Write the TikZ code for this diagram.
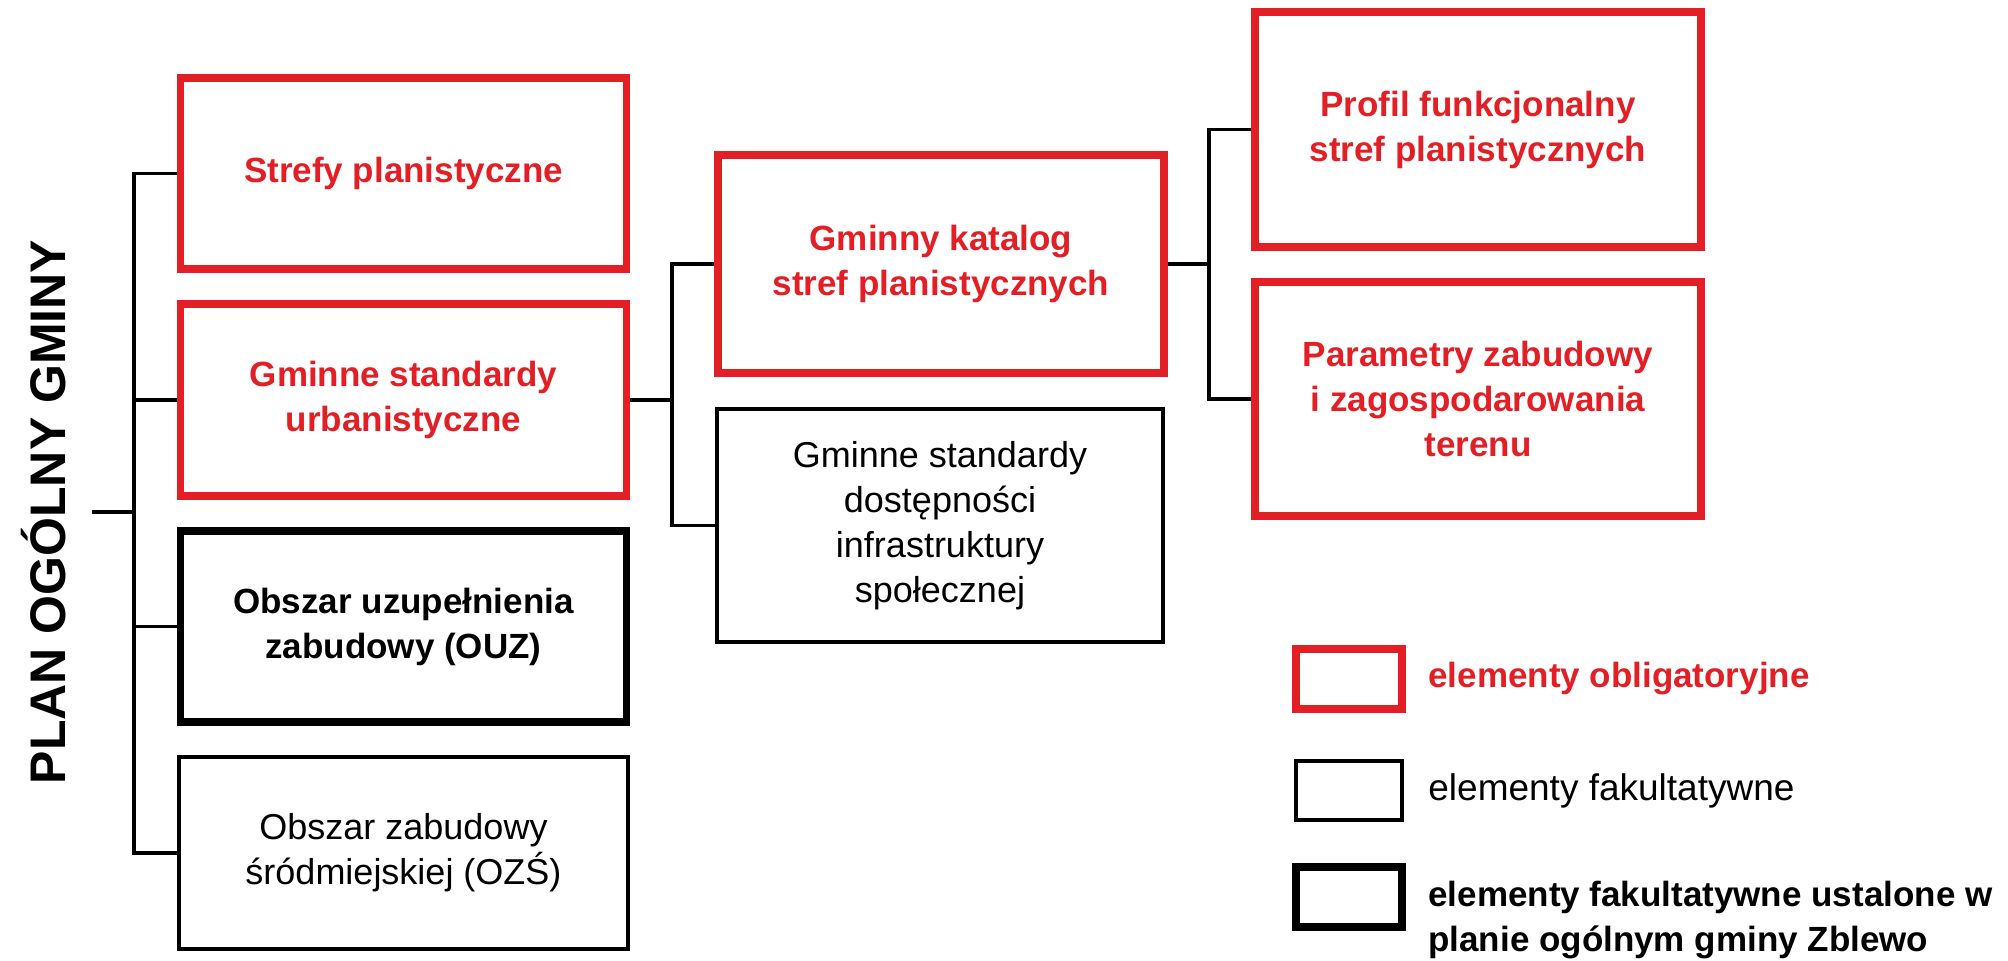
\documentclass[tikz,border=0pt]{standalone}
\usepackage{fontspec}
\setmainfont{Liberation Sans}
\definecolor{rd}{RGB}{227,30,36}
\begin{document}
\begin{tikzpicture}[x=0.5pt,y=-0.5pt,
  box/.style={draw, rectangle, inner sep=0pt, align=center, font=\fontsize{18}{22.5}\selectfont, minimum width=223pt},
  redbox/.style={box, draw=rd, line width=3.75pt, text=rd, font=\bfseries\fontsize{17.5}{22.5}\selectfont},
  thinbox/.style={box, draw=black, line width=2pt},
  thickbox/.style={box, draw=black, line width=3.75pt, font=\bfseries\fontsize{17.5}{22.5}\selectfont},
  conn/.style={draw=black, line width=1.8pt},
  legtext/.style={anchor=west, inner sep=0pt, align=left, font=\fontsize{18.5}{22.5}\selectfont},
]
\useasboundingbox (0,0) rectangle (2008,960);

% title
\node[rotate=90, font=\bfseries\fontsize{25}{30}\selectfont, inner sep=0pt] (title) at (43.5,512) {PLAN OGÓLNY GMINY};

% column 1
\node[redbox, minimum height=95.5pt] (strefy) at (403.5,173.5) {Strefy planistyczne};
\node[redbox, minimum height=96pt] (gminne) at (403.5,400) {Gminne standardy\\urbanistyczne};
\node[thickbox, minimum height=95.5pt] (ouz) at (403.5,626.5) {Obszar uzupełnienia\\zabudowy (OUZ)};
\node[thinbox, minimum height=96pt, minimum width=224.5pt] (ozs) at (403.5,853) {Obszar zabudowy\\śródmiejskiej (OZŚ)};

% column 2
\node[redbox, minimum height=109pt] (katalog) at (941,264) {Gminny katalog\\stref planistycznych};
\node[thinbox, minimum height=116.5pt] (dost) at (940,525.5) {Gminne standardy\\dostępności\\infrastruktury\\społecznej};

% column 3
\node[redbox, minimum height=117.5pt] (profil) at (1478,129.5) {Profil funkcjonalny\\stref planistycznych};
\node[redbox, minimum height=117pt] (param) at (1478,399) {Parametry zabudowy\\i zagospodarowania\\terenu};

% connectors
\coordinate (rootL) at (92,512);
\coordinate (b1) at (134,0);
\coordinate (b2) at (672,0);
\coordinate (b3) at (1209,0);
\draw[conn] (rootL) -- (rootL -| b1);
\draw[conn] (strefy.west) -- (strefy.west -| b1) -- (ozs.west -| b1) -- (ozs.west);
\draw[conn] (gminne.west) -- (gminne.west -| b1);
\draw[conn] (ouz.west) -- (ouz.west -| b1);

\draw[conn] (gminne.east) -- (gminne.east -| b2);
\draw[conn] (katalog.west) -- (katalog.west -| b2) -- (dost.west -| b2) -- (dost.west);

\draw[conn] (katalog.east) -- (katalog.east -| b3);
\draw[conn] (profil.west) -- (profil.west -| b3) -- (param.west -| b3) -- (param.west);

% legend
\node[redbox, minimum width=53pt, minimum height=30pt] (lred) at (1349,679) {};
\node[thinbox, minimum width=53pt, minimum height=29.5pt] (lthin) at (1349,790.5) {};
\node[thickbox, minimum width=53pt, minimum height=30pt] (lthick) at (1349,897) {};
\node[legtext, text=rd, font=\bfseries\fontsize{17.5}{22.5}\selectfont] (tred) at (1428,679) {elementy obligatoryjne};
\node[legtext] (tthin) at (1428,791) {elementy fakultatywne};
\node[legtext, font=\bfseries\fontsize{17.5}{22.5}\selectfont] (tthick) at (1428,920) {elementy fakultatywne ustalone w\\planie ogólnym gminy Zblewo};
\end{tikzpicture}
\end{document}
